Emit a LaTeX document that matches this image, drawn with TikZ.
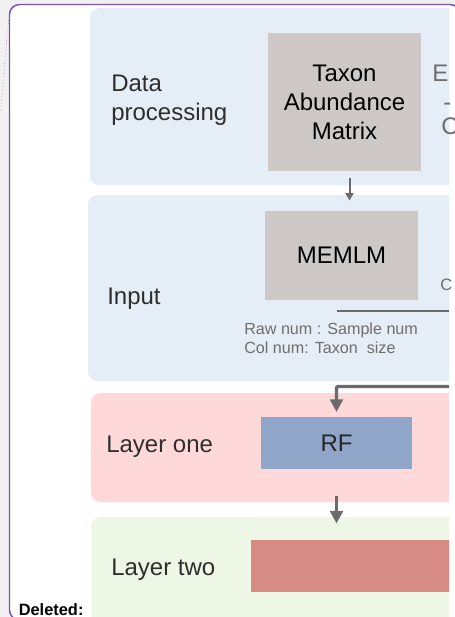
\documentclass[tikz,border=0pt]{standalone}
\usepackage{fontspec}
\setmainfont{Liberation Sans}
\usetikzlibrary{arrows.meta}

\definecolor{pagebg}{HTML}{F1F1F1}
\definecolor{framepurple}{HTML}{7A51B6}
\definecolor{panelblue}{HTML}{E5EDF7}
\definecolor{panelpink}{HTML}{FFD9D9}
\definecolor{panelgreen}{HTML}{EEF6E5}
\definecolor{boxgray}{HTML}{CEC9C7}
\definecolor{boxblue}{HTML}{8FA6C9}
\definecolor{boxred}{HTML}{D68B84}
\definecolor{linegray}{HTML}{6B6B6B}
\definecolor{notegray}{HTML}{6E6E6E}
\definecolor{labeldark}{HTML}{2E2E2E}

\tikzset{
  panel/.style={anchor=north west, inner sep=0pt, outer sep=0pt, rounded corners=7pt},
  block/.style={inner sep=0pt, outer sep=0pt, text=black,
    font=\fontsize{18}{21.75}\selectfont, align=center},
  layerlabel/.style={inner sep=0pt, text=labeldark, align=left,
    font=\fontsize{18}{21.75}\selectfont},
  note/.style={anchor=base west, inner sep=0pt, text=notegray,
    font=\fontsize{12.1}{14}\selectfont},
  sidetext/.style={anchor=base west, inner sep=0pt, text=notegray,
    font=\fontsize{18}{21.75}\selectfont},
  thinarrow/.style={draw=linegray, line width=1.5pt,
    -{Triangle[width=6pt,length=5.5pt]}},
  thickarrow/.style={draw=linegray, line width=2.6pt,
    -{Triangle[width=9.5pt,length=9.5pt]}},
}

\begin{document}
\begin{tikzpicture}[x=0.75pt,y=-0.75pt]
\useasboundingbox (0,0) rectangle (454,617);
\fill[pagebg] (0,0) rectangle (454,617);

% outer frame
\draw[framepurple, line width=1.1pt, fill=white, rounded corners=7.5pt]
  (9.5,4.5) rectangle (460,620);
\coordinate (dtop) at (8.5,20);
\coordinate (dbot) at (0.5,112);
\draw[framepurple!70, line width=0.5pt, dotted]
  (dtop) .. controls (6,50) and (3,85) .. (dbot);

% stage panels, cut at the right edge
\begin{scope}
  \clip (0,0) rectangle (449,617);
  \node[panel, fill=panelblue, minimum width=292.5pt, minimum height=132.75pt] (pdata) at (90,8) {};
  \node[panel, fill=panelblue, minimum width=294pt, minimum height=139.5pt] (pinput) at (88,195) {};
  \node[panel, fill=panelpink, minimum width=291.75pt, minimum height=81.75pt] (plone) at (91,393) {};
  \node[panel, fill=panelgreen, minimum width=291.75pt, minimum height=92.25pt] (pltwo) at (91,517) {};
  \node[anchor=north west, inner sep=0pt, outer sep=0pt, fill=boxred,
    minimum width=156.75pt, minimum height=39pt] (ltbox) at (251,540) {};
\end{scope}

% stage labels
\node[layerlabel, anchor=west] (ldata) at (111,100.4) {Data\\processing};
\node[layerlabel, anchor=base west] (linput) at (107,304) {Input};
\node[layerlabel, anchor=base west] (llone) at (106,452) {Layer one};
\node[layerlabel, anchor=base west] (lltwo) at (111,575) {Layer two};

% blocks
\node[block, fill=boxgray, minimum width=114.75pt, minimum height=103.5pt]
  (taxon) at (344.5,102) {Taxon\\Abundance\\Matrix};
\node[block, fill=boxgray, minimum width=114.75pt, minimum height=66.75pt]
  (memlm) at (341.5,255.5) {MEMLM};
\node[block, fill=boxblue, minimum width=113.25pt, minimum height=39pt, text=black!85]
  (rf) at (336.5,443) {RF};

% text running off the right edge
\node[sidetext] (se) at (432,82) {E};
\node[sidetext] (sd) at (443,110) {-};
\node[sidetext] (sc) at (441,134) {C};
\node[note, font=\fontsize{12.4}{14}\selectfont] (sc2) at (440,290) {C};

% matrix size note
\node[note] (raw) at (244,334) {Raw num : Sample num};
\node[note] (col) at (244,353) {Col num: Taxon\ \ size};

% connectors
\coordinate (a1s) at (349.5,178);
\coordinate (a1e) at (349.5,200.5);
\draw[thinarrow] (a1s) -- (a1e);

\coordinate (rule1) at (336.5,311);
\coordinate (rule2) at (449,311);
\draw[draw=linegray, line width=1.8pt] (rule1) -- (rule2);

\coordinate (feed) at (449,386.5);
\coordinate (feedtip) at (336.5,412);
\draw[thickarrow, rounded corners=1pt] (feed) -- (feed -| rf.north) -- (feedtip);

\coordinate (a3s) at (336.5,496);
\coordinate (a3e) at (336.5,523.5);
\draw[thickarrow] (a3s) -- (a3e);

% tracked-change marker
\node[anchor=base west, inner sep=0pt, font=\fontsize{12.3}{14}\selectfont\bfseries]
  (deleted) at (18.5,615) {Deleted:};
\end{tikzpicture}
\end{document}
